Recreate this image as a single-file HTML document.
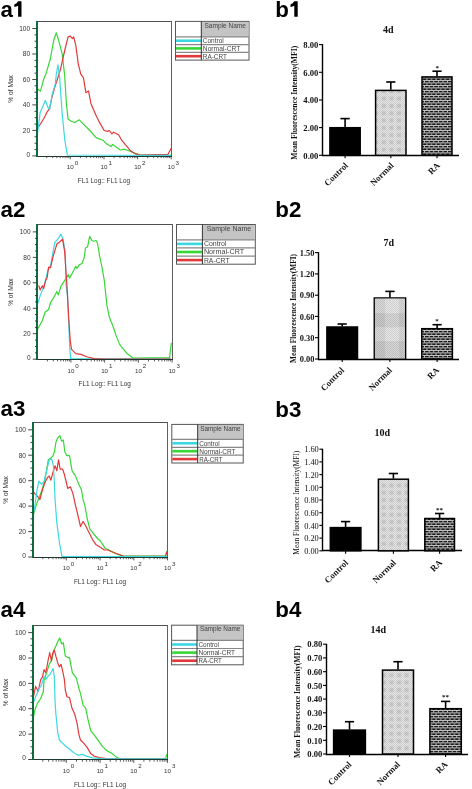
<!DOCTYPE html>
<html><head><meta charset="utf-8"><style>
html,body{margin:0;padding:0;background:#fff;width:472px;height:789px;overflow:hidden}
svg{display:block;will-change:transform}
</style></head><body>
<svg width="472" height="789" viewBox="0 0 472 789">
<rect width="472" height="789" fill="#fff"/>
<defs>
<pattern id="n1" patternUnits="userSpaceOnUse" width="7.6" height="7.3">
 <rect width="7.6" height="7.3" fill="#e4e4e4"/>
 <rect x="1.8" y="1.7" width="4" height="3.9" fill="#cecece"/>
</pattern>
<pattern id="dots" patternUnits="userSpaceOnUse" width="2" height="2">
 <rect width="1" height="1" fill="#000" fill-opacity="0.10"/>
 <rect x="1" y="1" width="1" height="1" fill="#000" fill-opacity="0.10"/>
</pattern>
<pattern id="n2" patternUnits="userSpaceOnUse" width="22" height="26">
 <rect width="22" height="26" fill="#e4e4e4"/>
 <rect x="0" y="0" width="11" height="13" fill="#cdcdcd"/>
 <rect x="11" y="13" width="11" height="13" fill="#d6d6d6"/>
</pattern>
<pattern id="brick" patternUnits="userSpaceOnUse" width="9.2" height="5">
 <rect width="9.2" height="5" fill="#1a1a1a"/>
 <rect x="0" y="0" width="9.2" height="0.8" fill="#e6e6e6"/>
 <rect x="0" y="2.5" width="9.2" height="0.8" fill="#e6e6e6"/>
 <rect x="1" y="0.8" width="0.8" height="1.7" fill="#e6e6e6"/>
 <rect x="5.6" y="0.8" width="0.8" height="1.7" fill="#e6e6e6"/>
 <rect x="3.3" y="3.3" width="0.8" height="1.7" fill="#e6e6e6"/>
 <rect x="7.9" y="3.3" width="0.8" height="1.7" fill="#e6e6e6"/>
</pattern>
</defs>
<text x="0.6" y="17.0" style='font-family:"Liberation Sans",sans-serif;font-weight:bold;font-size:22.3px' fill="#000">a</text>
<path d="M18.1,1.1999999999999993 h3.4 v15.6 h-3.4 v-11 q-1.6,0.9 -3.8,1.1 v-2.5 q2.6,-0.9 3.8,-3.2 z" fill="#000"/>
<rect x="36.7" y="21.4" width="134.5" height="134.9" fill="#fff" stroke="none"/>
<clipPath id="c0"><rect x="36.7" y="21.4" width="135.1" height="134.9"/></clipPath>
<g clip-path="url(#c0)" fill="none" stroke-width="1.2" stroke-linejoin="round">
<polyline points="37.1,88.6 40.5,91.2 43.6,79.3 46.1,73.4 50.3,59.0 53.7,40.3 56.3,32.7 58.8,41.2 62.2,53.9 64.7,75.9 66.4,103.7 68.1,119.0 71.5,121.5 74.9,122.4 79.2,119.8 84.2,124.9 89.3,130.0 96.1,137.6 102.9,140.2 106.8,144.1 111.0,146.6 112.7,144.4 120.3,150.0 124.6,149.2 128.8,150.8 133.9,152.9 140.7,155.1 171.0,155.3" stroke="#36d836"/>
<polyline points="37.4,127.5 39.3,125.8 43.6,119.0 47.0,112.2 49.5,108.8 52.0,97.0 55.4,85.0 57.1,80.2 60.5,69.2 64.7,50.5 68.1,36.9 70.3,36.1 72.4,38.6 73.7,36.9 75.8,45.4 78.3,64.1 80.8,74.2 83.4,77.6 85.9,92.7 88.5,91.0 91.0,103.7 96.1,115.6 99.5,122.4 104.2,130.5 107.6,131.4 109.3,130.5 111.9,133.9 113.6,132.2 118.6,134.7 122.0,140.7 127.1,146.6 130.5,150.8 135.6,153.9 140.7,155.1 155.9,154.6 167.8,154.6 171.2,148.3" stroke="#e23a3a"/>
<polyline points="37.6,132.5 40.2,112.2 42.7,107.1 45.3,100.3 47.8,107.1 49.5,109.7 52.0,95.3 55.4,83.4 56.3,74.2 58.0,64.9 59.7,77.6 60.5,90.0 62.2,113.9 64.7,139.3 67.3,155.0 171.0,155.3" stroke="#3cd8e2"/>
</g>
<line x1="36.7" y1="21.5" x2="172.0" y2="21.5" stroke="#505050" stroke-width="1"/>
<line x1="171.5" y1="21.4" x2="171.5" y2="156.3" stroke="#606060" stroke-width="1"/>
<line x1="36.2" y1="156.5" x2="172.0" y2="156.5" stroke="#1e3a2e" stroke-width="1.2"/>
<line x1="37" y1="21.0" x2="37" y2="157.1" stroke="#0c6e40" stroke-width="2"/>
<line x1="32.300000000000004" y1="155.9" x2="36.7" y2="155.9" stroke="#333" stroke-width="0.9"/>
<text x="30.1" y="156.5" text-anchor="end" textLength="3.65" lengthAdjust="spacingAndGlyphs" style='font-family:"Liberation Sans",sans-serif;font-size:6.5px' fill="#333">0</text>
<line x1="34.5" y1="149.5" x2="36.7" y2="149.5" stroke="#333" stroke-width="0.9"/>
<line x1="34.5" y1="143.2" x2="36.7" y2="143.2" stroke="#333" stroke-width="0.9"/>
<line x1="34.5" y1="136.8" x2="36.7" y2="136.8" stroke="#333" stroke-width="0.9"/>
<line x1="32.300000000000004" y1="130.4" x2="36.7" y2="130.4" stroke="#333" stroke-width="0.9"/>
<text x="30.1" y="132.7" text-anchor="end" textLength="7.30" lengthAdjust="spacingAndGlyphs" style='font-family:"Liberation Sans",sans-serif;font-size:6.5px' fill="#333">20</text>
<line x1="34.5" y1="124.1" x2="36.7" y2="124.1" stroke="#333" stroke-width="0.9"/>
<line x1="34.5" y1="117.7" x2="36.7" y2="117.7" stroke="#333" stroke-width="0.9"/>
<line x1="34.5" y1="111.3" x2="36.7" y2="111.3" stroke="#333" stroke-width="0.9"/>
<line x1="32.300000000000004" y1="104.9" x2="36.7" y2="104.9" stroke="#333" stroke-width="0.9"/>
<text x="30.1" y="107.2" text-anchor="end" textLength="7.30" lengthAdjust="spacingAndGlyphs" style='font-family:"Liberation Sans",sans-serif;font-size:6.5px' fill="#333">40</text>
<line x1="34.5" y1="98.6" x2="36.7" y2="98.6" stroke="#333" stroke-width="0.9"/>
<line x1="34.5" y1="92.2" x2="36.7" y2="92.2" stroke="#333" stroke-width="0.9"/>
<line x1="34.5" y1="85.8" x2="36.7" y2="85.8" stroke="#333" stroke-width="0.9"/>
<line x1="32.300000000000004" y1="79.5" x2="36.7" y2="79.5" stroke="#333" stroke-width="0.9"/>
<text x="30.1" y="81.8" text-anchor="end" textLength="7.30" lengthAdjust="spacingAndGlyphs" style='font-family:"Liberation Sans",sans-serif;font-size:6.5px' fill="#333">60</text>
<line x1="34.5" y1="73.1" x2="36.7" y2="73.1" stroke="#333" stroke-width="0.9"/>
<line x1="34.5" y1="66.7" x2="36.7" y2="66.7" stroke="#333" stroke-width="0.9"/>
<line x1="34.5" y1="60.4" x2="36.7" y2="60.4" stroke="#333" stroke-width="0.9"/>
<line x1="32.300000000000004" y1="54.0" x2="36.7" y2="54.0" stroke="#333" stroke-width="0.9"/>
<text x="30.1" y="56.3" text-anchor="end" textLength="7.30" lengthAdjust="spacingAndGlyphs" style='font-family:"Liberation Sans",sans-serif;font-size:6.5px' fill="#333">80</text>
<line x1="34.5" y1="47.6" x2="36.7" y2="47.6" stroke="#333" stroke-width="0.9"/>
<line x1="34.5" y1="41.2" x2="36.7" y2="41.2" stroke="#333" stroke-width="0.9"/>
<line x1="34.5" y1="34.9" x2="36.7" y2="34.9" stroke="#333" stroke-width="0.9"/>
<line x1="32.300000000000004" y1="28.5" x2="36.7" y2="28.5" stroke="#333" stroke-width="0.9"/>
<text x="30.1" y="30.8" text-anchor="end" textLength="10.95" lengthAdjust="spacingAndGlyphs" style='font-family:"Liberation Sans",sans-serif;font-size:6.5px' fill="#333">100</text>
<text transform="translate(12.500000000000004,88.9) rotate(-90)" text-anchor="middle" style='font-family:"Liberation Sans",sans-serif;font-size:6.6px' fill="#333">% of Max</text>
<line x1="46.8" y1="156.3" x2="46.8" y2="158.10000000000002" stroke="#333" stroke-width="0.8"/>
<line x1="52.7" y1="156.3" x2="52.7" y2="158.10000000000002" stroke="#333" stroke-width="0.8"/>
<line x1="56.9" y1="156.3" x2="56.9" y2="158.10000000000002" stroke="#333" stroke-width="0.8"/>
<line x1="60.2" y1="156.3" x2="60.2" y2="158.10000000000002" stroke="#333" stroke-width="0.8"/>
<line x1="62.9" y1="156.3" x2="62.9" y2="158.10000000000002" stroke="#333" stroke-width="0.8"/>
<line x1="65.1" y1="156.3" x2="65.1" y2="158.10000000000002" stroke="#333" stroke-width="0.8"/>
<line x1="67.1" y1="156.3" x2="67.1" y2="158.10000000000002" stroke="#333" stroke-width="0.8"/>
<line x1="68.8" y1="156.3" x2="68.8" y2="158.10000000000002" stroke="#333" stroke-width="0.8"/>
<line x1="70.3" y1="156.3" x2="70.3" y2="159.3" stroke="#333" stroke-width="0.8"/>
<line x1="80.4" y1="156.3" x2="80.4" y2="158.10000000000002" stroke="#333" stroke-width="0.8"/>
<line x1="86.4" y1="156.3" x2="86.4" y2="158.10000000000002" stroke="#333" stroke-width="0.8"/>
<line x1="90.6" y1="156.3" x2="90.6" y2="158.10000000000002" stroke="#333" stroke-width="0.8"/>
<line x1="93.8" y1="156.3" x2="93.8" y2="158.10000000000002" stroke="#333" stroke-width="0.8"/>
<line x1="96.5" y1="156.3" x2="96.5" y2="158.10000000000002" stroke="#333" stroke-width="0.8"/>
<line x1="98.7" y1="156.3" x2="98.7" y2="158.10000000000002" stroke="#333" stroke-width="0.8"/>
<line x1="100.7" y1="156.3" x2="100.7" y2="158.10000000000002" stroke="#333" stroke-width="0.8"/>
<line x1="102.4" y1="156.3" x2="102.4" y2="158.10000000000002" stroke="#333" stroke-width="0.8"/>
<line x1="104.0" y1="156.3" x2="104.0" y2="159.3" stroke="#333" stroke-width="0.8"/>
<line x1="114.1" y1="156.3" x2="114.1" y2="158.10000000000002" stroke="#333" stroke-width="0.8"/>
<line x1="120.0" y1="156.3" x2="120.0" y2="158.10000000000002" stroke="#333" stroke-width="0.8"/>
<line x1="124.2" y1="156.3" x2="124.2" y2="158.10000000000002" stroke="#333" stroke-width="0.8"/>
<line x1="127.5" y1="156.3" x2="127.5" y2="158.10000000000002" stroke="#333" stroke-width="0.8"/>
<line x1="130.1" y1="156.3" x2="130.1" y2="158.10000000000002" stroke="#333" stroke-width="0.8"/>
<line x1="132.4" y1="156.3" x2="132.4" y2="158.10000000000002" stroke="#333" stroke-width="0.8"/>
<line x1="134.3" y1="156.3" x2="134.3" y2="158.10000000000002" stroke="#333" stroke-width="0.8"/>
<line x1="136.0" y1="156.3" x2="136.0" y2="158.10000000000002" stroke="#333" stroke-width="0.8"/>
<line x1="137.6" y1="156.3" x2="137.6" y2="159.3" stroke="#333" stroke-width="0.8"/>
<line x1="147.7" y1="156.3" x2="147.7" y2="158.10000000000002" stroke="#333" stroke-width="0.8"/>
<line x1="153.6" y1="156.3" x2="153.6" y2="158.10000000000002" stroke="#333" stroke-width="0.8"/>
<line x1="157.8" y1="156.3" x2="157.8" y2="158.10000000000002" stroke="#333" stroke-width="0.8"/>
<line x1="161.1" y1="156.3" x2="161.1" y2="158.10000000000002" stroke="#333" stroke-width="0.8"/>
<line x1="163.7" y1="156.3" x2="163.7" y2="158.10000000000002" stroke="#333" stroke-width="0.8"/>
<line x1="166.0" y1="156.3" x2="166.0" y2="158.10000000000002" stroke="#333" stroke-width="0.8"/>
<line x1="167.9" y1="156.3" x2="167.9" y2="158.10000000000002" stroke="#333" stroke-width="0.8"/>
<line x1="169.7" y1="156.3" x2="169.7" y2="158.10000000000002" stroke="#333" stroke-width="0.8"/>
<line x1="171.2" y1="156.3" x2="171.2" y2="159.3" stroke="#333" stroke-width="0.8"/>
<text x="70.3" y="169.3" text-anchor="middle" style='font-family:"Liberation Sans",sans-serif;font-size:6.2px' fill="#333">10</text>
<text x="74.7" y="164.6" style='font-family:"Liberation Sans",sans-serif;font-size:6.2px' fill="#333">0</text>
<text x="104.0" y="169.3" text-anchor="middle" style='font-family:"Liberation Sans",sans-serif;font-size:6.2px' fill="#333">10</text>
<text x="108.4" y="164.6" style='font-family:"Liberation Sans",sans-serif;font-size:6.2px' fill="#333">1</text>
<text x="137.6" y="169.3" text-anchor="middle" style='font-family:"Liberation Sans",sans-serif;font-size:6.2px' fill="#333">10</text>
<text x="142.0" y="164.6" style='font-family:"Liberation Sans",sans-serif;font-size:6.2px' fill="#333">2</text>
<text x="171.2" y="169.3" text-anchor="middle" style='font-family:"Liberation Sans",sans-serif;font-size:6.2px' fill="#333">10</text>
<text x="175.6" y="164.6" style='font-family:"Liberation Sans",sans-serif;font-size:6.2px' fill="#333">3</text>
<text x="103.9" y="183.0" text-anchor="middle" style='font-family:"Liberation Sans",sans-serif;font-size:6.4px' fill="#333">FL1 Log:: FL1 Log</text>
<rect x="175.5" y="21.4" width="73.5" height="38.7" fill="#fff" stroke="#555" stroke-width="1"/>
<rect x="201.3" y="21.9" width="47.19999999999999" height="14.899999999999999" fill="#c4c4c4"/>
<text x="225.2" y="27.6" text-anchor="middle" textLength="41.5" lengthAdjust="spacingAndGlyphs" style='font-family:"Liberation Sans",sans-serif;font-size:6.4px' fill="#444">Sample Name</text>
<line x1="175.5" y1="36.8" x2="249.0" y2="36.8" stroke="#888" stroke-width="1.2"/>
<line x1="176.0" y1="40.7" x2="201.3" y2="40.7" stroke="#3cd8e2" stroke-width="2.6"/>
<text x="202.8" y="43.1" textLength="21.0" lengthAdjust="spacingAndGlyphs" style='font-family:"Liberation Sans",sans-serif;font-size:6.4px' fill="#444">Control</text>
<line x1="175.5" y1="44.6" x2="249.0" y2="44.6" stroke="#888" stroke-width="1.2"/>
<line x1="176.0" y1="48.4" x2="201.3" y2="48.4" stroke="#36d836" stroke-width="2.6"/>
<text x="202.8" y="50.8" textLength="37.5" lengthAdjust="spacingAndGlyphs" style='font-family:"Liberation Sans",sans-serif;font-size:6.4px' fill="#444">Normal-CRT</text>
<line x1="175.5" y1="52.3" x2="249.0" y2="52.3" stroke="#888" stroke-width="1.2"/>
<line x1="176.0" y1="56.2" x2="201.3" y2="56.2" stroke="#e23a3a" stroke-width="2.6"/>
<text x="202.8" y="58.6" textLength="24.0" lengthAdjust="spacingAndGlyphs" style='font-family:"Liberation Sans",sans-serif;font-size:6.4px' fill="#444">RA-CRT</text>
<line x1="201.3" y1="21.4" x2="201.3" y2="60.1" stroke="#333" stroke-width="1"/>
<text x="0.6" y="217.2" style='font-family:"Liberation Sans",sans-serif;font-weight:bold;font-size:22.3px' fill="#000">a2</text>
<rect x="37.2" y="224.6" width="134.89999999999998" height="135.00000000000003" fill="#fff" stroke="none"/>
<clipPath id="c1"><rect x="37.2" y="224.6" width="135.49999999999997" height="135.00000000000003"/></clipPath>
<g clip-path="url(#c1)" fill="none" stroke-width="1.2" stroke-linejoin="round">
<polyline points="37.6,329.5 38.1,328.3 42.3,320.7 45.1,312.3 48.6,309.5 50.6,302.5 54.1,296.9 56.9,291.4 58.3,294.9 61.1,285.8 63.9,281.6 66.7,277.4 68.4,274.6 69.5,278.1 72.3,273.2 75.7,266.3 77.1,268.4 79.2,264.9 82.0,263.5 84.1,257.9 85.5,248.1 87.6,246.7 89.7,236.3 91.8,240.5 93.9,241.2 96.0,240.5 97.5,243.0 99.5,255.5 102.0,267.4 103.5,276.0 104.3,280.6 106.9,305.4 109.4,317.3 112.8,325.8 116.2,335.9 119.6,344.4 123.0,348.6 127.2,353.7 133.1,358.0 169.6,357.6 171.3,342.7" stroke="#36d836"/>
<polyline points="37.6,303.5 38.1,302.5 40.2,295.6 43.0,288.6 45.1,281.6 47.9,270.4 50.6,265.6 52.7,253.7 54.8,242.6 58.3,238.4 61.1,234.2 63.2,239.8 65.3,253.7 66.0,284.4 67.4,295.6 68.6,320.0 69.8,349.3 70.7,358.6 171.0,358.8" stroke="#3cd8e2"/>
<polyline points="38.5,286.0 38.8,285.8 40.2,290.0 42.3,285.8 43.7,288.6 45.8,280.2 47.2,277.4 48.6,267.0 50.6,267.7 52.7,257.9 54.8,250.9 56.9,244.0 59.7,241.9 62.5,239.1 64.6,250.9 66.0,271.8 67.4,292.8 68.8,319.3 70.2,340.0 71.5,349.3 75.8,353.6 80.8,354.4 87.6,357.0 94.4,358.6 104.6,359.0 171.0,359.0" stroke="#e23a3a"/>
</g>
<line x1="37.2" y1="224.5" x2="173.0" y2="224.5" stroke="#505050" stroke-width="1"/>
<line x1="172.5" y1="224.6" x2="172.5" y2="359.6" stroke="#606060" stroke-width="1"/>
<line x1="36.7" y1="359.5" x2="173.0" y2="359.5" stroke="#1e3a2e" stroke-width="1.2"/>
<line x1="37" y1="224.0" x2="37" y2="360.1" stroke="#0c6e40" stroke-width="2"/>
<line x1="32.800000000000004" y1="359.2" x2="37.2" y2="359.2" stroke="#333" stroke-width="0.9"/>
<text x="30.6" y="359.8" text-anchor="end" textLength="3.65" lengthAdjust="spacingAndGlyphs" style='font-family:"Liberation Sans",sans-serif;font-size:6.5px' fill="#333">0</text>
<line x1="35.0" y1="352.8" x2="37.2" y2="352.8" stroke="#333" stroke-width="0.9"/>
<line x1="35.0" y1="346.5" x2="37.2" y2="346.5" stroke="#333" stroke-width="0.9"/>
<line x1="35.0" y1="340.1" x2="37.2" y2="340.1" stroke="#333" stroke-width="0.9"/>
<line x1="32.800000000000004" y1="333.7" x2="37.2" y2="333.7" stroke="#333" stroke-width="0.9"/>
<text x="30.6" y="336.0" text-anchor="end" textLength="7.30" lengthAdjust="spacingAndGlyphs" style='font-family:"Liberation Sans",sans-serif;font-size:6.5px' fill="#333">20</text>
<line x1="35.0" y1="327.4" x2="37.2" y2="327.4" stroke="#333" stroke-width="0.9"/>
<line x1="35.0" y1="321.0" x2="37.2" y2="321.0" stroke="#333" stroke-width="0.9"/>
<line x1="35.0" y1="314.6" x2="37.2" y2="314.6" stroke="#333" stroke-width="0.9"/>
<line x1="32.800000000000004" y1="308.3" x2="37.2" y2="308.3" stroke="#333" stroke-width="0.9"/>
<text x="30.6" y="310.6" text-anchor="end" textLength="7.30" lengthAdjust="spacingAndGlyphs" style='font-family:"Liberation Sans",sans-serif;font-size:6.5px' fill="#333">40</text>
<line x1="35.0" y1="301.9" x2="37.2" y2="301.9" stroke="#333" stroke-width="0.9"/>
<line x1="35.0" y1="295.6" x2="37.2" y2="295.6" stroke="#333" stroke-width="0.9"/>
<line x1="35.0" y1="289.2" x2="37.2" y2="289.2" stroke="#333" stroke-width="0.9"/>
<line x1="32.800000000000004" y1="282.8" x2="37.2" y2="282.8" stroke="#333" stroke-width="0.9"/>
<text x="30.6" y="285.1" text-anchor="end" textLength="7.30" lengthAdjust="spacingAndGlyphs" style='font-family:"Liberation Sans",sans-serif;font-size:6.5px' fill="#333">60</text>
<line x1="35.0" y1="276.5" x2="37.2" y2="276.5" stroke="#333" stroke-width="0.9"/>
<line x1="35.0" y1="270.1" x2="37.2" y2="270.1" stroke="#333" stroke-width="0.9"/>
<line x1="35.0" y1="263.7" x2="37.2" y2="263.7" stroke="#333" stroke-width="0.9"/>
<line x1="32.800000000000004" y1="257.4" x2="37.2" y2="257.4" stroke="#333" stroke-width="0.9"/>
<text x="30.6" y="259.7" text-anchor="end" textLength="7.30" lengthAdjust="spacingAndGlyphs" style='font-family:"Liberation Sans",sans-serif;font-size:6.5px' fill="#333">80</text>
<line x1="35.0" y1="251.0" x2="37.2" y2="251.0" stroke="#333" stroke-width="0.9"/>
<line x1="35.0" y1="244.6" x2="37.2" y2="244.6" stroke="#333" stroke-width="0.9"/>
<line x1="35.0" y1="238.3" x2="37.2" y2="238.3" stroke="#333" stroke-width="0.9"/>
<line x1="32.800000000000004" y1="231.9" x2="37.2" y2="231.9" stroke="#333" stroke-width="0.9"/>
<text x="30.6" y="234.2" text-anchor="end" textLength="10.95" lengthAdjust="spacingAndGlyphs" style='font-family:"Liberation Sans",sans-serif;font-size:6.5px' fill="#333">100</text>
<text transform="translate(13.000000000000004,292.1) rotate(-90)" text-anchor="middle" style='font-family:"Liberation Sans",sans-serif;font-size:6.6px' fill="#333">% of Max</text>
<line x1="47.4" y1="359.6" x2="47.4" y2="361.40000000000003" stroke="#333" stroke-width="0.8"/>
<line x1="53.3" y1="359.6" x2="53.3" y2="361.40000000000003" stroke="#333" stroke-width="0.8"/>
<line x1="57.5" y1="359.6" x2="57.5" y2="361.40000000000003" stroke="#333" stroke-width="0.8"/>
<line x1="60.8" y1="359.6" x2="60.8" y2="361.40000000000003" stroke="#333" stroke-width="0.8"/>
<line x1="63.4" y1="359.6" x2="63.4" y2="361.40000000000003" stroke="#333" stroke-width="0.8"/>
<line x1="65.7" y1="359.6" x2="65.7" y2="361.40000000000003" stroke="#333" stroke-width="0.8"/>
<line x1="67.7" y1="359.6" x2="67.7" y2="361.40000000000003" stroke="#333" stroke-width="0.8"/>
<line x1="69.4" y1="359.6" x2="69.4" y2="361.40000000000003" stroke="#333" stroke-width="0.8"/>
<line x1="70.9" y1="359.6" x2="70.9" y2="362.6" stroke="#333" stroke-width="0.8"/>
<line x1="81.1" y1="359.6" x2="81.1" y2="361.40000000000003" stroke="#333" stroke-width="0.8"/>
<line x1="87.0" y1="359.6" x2="87.0" y2="361.40000000000003" stroke="#333" stroke-width="0.8"/>
<line x1="91.2" y1="359.6" x2="91.2" y2="361.40000000000003" stroke="#333" stroke-width="0.8"/>
<line x1="94.5" y1="359.6" x2="94.5" y2="361.40000000000003" stroke="#333" stroke-width="0.8"/>
<line x1="97.2" y1="359.6" x2="97.2" y2="361.40000000000003" stroke="#333" stroke-width="0.8"/>
<line x1="99.4" y1="359.6" x2="99.4" y2="361.40000000000003" stroke="#333" stroke-width="0.8"/>
<line x1="101.4" y1="359.6" x2="101.4" y2="361.40000000000003" stroke="#333" stroke-width="0.8"/>
<line x1="103.1" y1="359.6" x2="103.1" y2="361.40000000000003" stroke="#333" stroke-width="0.8"/>
<line x1="104.6" y1="359.6" x2="104.6" y2="362.6" stroke="#333" stroke-width="0.8"/>
<line x1="114.8" y1="359.6" x2="114.8" y2="361.40000000000003" stroke="#333" stroke-width="0.8"/>
<line x1="120.7" y1="359.6" x2="120.7" y2="361.40000000000003" stroke="#333" stroke-width="0.8"/>
<line x1="125.0" y1="359.6" x2="125.0" y2="361.40000000000003" stroke="#333" stroke-width="0.8"/>
<line x1="128.2" y1="359.6" x2="128.2" y2="361.40000000000003" stroke="#333" stroke-width="0.8"/>
<line x1="130.9" y1="359.6" x2="130.9" y2="361.40000000000003" stroke="#333" stroke-width="0.8"/>
<line x1="133.2" y1="359.6" x2="133.2" y2="361.40000000000003" stroke="#333" stroke-width="0.8"/>
<line x1="135.1" y1="359.6" x2="135.1" y2="361.40000000000003" stroke="#333" stroke-width="0.8"/>
<line x1="136.8" y1="359.6" x2="136.8" y2="361.40000000000003" stroke="#333" stroke-width="0.8"/>
<line x1="138.4" y1="359.6" x2="138.4" y2="362.6" stroke="#333" stroke-width="0.8"/>
<line x1="148.5" y1="359.6" x2="148.5" y2="361.40000000000003" stroke="#333" stroke-width="0.8"/>
<line x1="154.5" y1="359.6" x2="154.5" y2="361.40000000000003" stroke="#333" stroke-width="0.8"/>
<line x1="158.7" y1="359.6" x2="158.7" y2="361.40000000000003" stroke="#333" stroke-width="0.8"/>
<line x1="161.9" y1="359.6" x2="161.9" y2="361.40000000000003" stroke="#333" stroke-width="0.8"/>
<line x1="164.6" y1="359.6" x2="164.6" y2="361.40000000000003" stroke="#333" stroke-width="0.8"/>
<line x1="166.9" y1="359.6" x2="166.9" y2="361.40000000000003" stroke="#333" stroke-width="0.8"/>
<line x1="168.8" y1="359.6" x2="168.8" y2="361.40000000000003" stroke="#333" stroke-width="0.8"/>
<line x1="170.6" y1="359.6" x2="170.6" y2="361.40000000000003" stroke="#333" stroke-width="0.8"/>
<line x1="172.1" y1="359.6" x2="172.1" y2="362.6" stroke="#333" stroke-width="0.8"/>
<text x="70.9" y="372.6" text-anchor="middle" style='font-family:"Liberation Sans",sans-serif;font-size:6.2px' fill="#333">10</text>
<text x="75.3" y="367.9" style='font-family:"Liberation Sans",sans-serif;font-size:6.2px' fill="#333">0</text>
<text x="104.6" y="372.6" text-anchor="middle" style='font-family:"Liberation Sans",sans-serif;font-size:6.2px' fill="#333">10</text>
<text x="109.0" y="367.9" style='font-family:"Liberation Sans",sans-serif;font-size:6.2px' fill="#333">1</text>
<text x="138.4" y="372.6" text-anchor="middle" style='font-family:"Liberation Sans",sans-serif;font-size:6.2px' fill="#333">10</text>
<text x="142.8" y="367.9" style='font-family:"Liberation Sans",sans-serif;font-size:6.2px' fill="#333">2</text>
<text x="172.1" y="372.6" text-anchor="middle" style='font-family:"Liberation Sans",sans-serif;font-size:6.2px' fill="#333">10</text>
<text x="176.5" y="367.9" style='font-family:"Liberation Sans",sans-serif;font-size:6.2px' fill="#333">3</text>
<text x="104.7" y="386.3" text-anchor="middle" style='font-family:"Liberation Sans",sans-serif;font-size:6.4px' fill="#333">FL1 Log:: FL1 Log</text>
<rect x="176.5" y="224.5" width="78.80000000000001" height="39.69999999999999" fill="#fff" stroke="#555" stroke-width="1"/>
<rect x="202.4" y="225.0" width="52.400000000000006" height="14.800000000000011" fill="#c4c4c4"/>
<text x="228.9" y="230.7" text-anchor="middle" textLength="44.5" lengthAdjust="spacingAndGlyphs" style='font-family:"Liberation Sans",sans-serif;font-size:6.4px' fill="#444">Sample Name</text>
<line x1="176.5" y1="239.8" x2="255.3" y2="239.8" stroke="#888" stroke-width="1.2"/>
<line x1="177.0" y1="243.9" x2="202.4" y2="243.9" stroke="#3cd8e2" stroke-width="2.6"/>
<text x="203.9" y="246.3" textLength="22.5" lengthAdjust="spacingAndGlyphs" style='font-family:"Liberation Sans",sans-serif;font-size:6.4px' fill="#444">Control</text>
<line x1="176.5" y1="247.9" x2="255.3" y2="247.9" stroke="#888" stroke-width="1.2"/>
<line x1="177.0" y1="252.0" x2="202.4" y2="252.0" stroke="#36d836" stroke-width="2.6"/>
<text x="203.9" y="254.4" textLength="40.2" lengthAdjust="spacingAndGlyphs" style='font-family:"Liberation Sans",sans-serif;font-size:6.4px' fill="#444">Normal-CRT</text>
<line x1="176.5" y1="256.1" x2="255.3" y2="256.1" stroke="#888" stroke-width="1.2"/>
<line x1="177.0" y1="260.1" x2="202.4" y2="260.1" stroke="#e23a3a" stroke-width="2.6"/>
<text x="203.9" y="262.5" textLength="25.7" lengthAdjust="spacingAndGlyphs" style='font-family:"Liberation Sans",sans-serif;font-size:6.4px' fill="#444">RA-CRT</text>
<line x1="202.4" y1="224.5" x2="202.4" y2="264.2" stroke="#333" stroke-width="1"/>
<text x="0.6" y="416.2" style='font-family:"Liberation Sans",sans-serif;font-weight:bold;font-size:22.3px' fill="#000">a3</text>
<rect x="32.6" y="422.5" width="134.9" height="134.89999999999998" fill="#fff" stroke="none"/>
<clipPath id="c2"><rect x="32.6" y="422.5" width="135.5" height="134.89999999999998"/></clipPath>
<g clip-path="url(#c2)" fill="none" stroke-width="1.2" stroke-linejoin="round">
<polyline points="33.1,515.6 35.6,507.1 38.2,499.7 41.6,491.2 44.9,480.2 48.3,459.8 50.9,458.1 53.1,455.6 54.3,452.2 56.0,442.0 57.7,437.8 59.9,435.6 61.6,441.2 63.3,440.0 64.9,452.2 67.0,455.6 69.5,455.6 72.1,470.8 75.5,475.9 78.8,484.4 81.4,489.5 83.1,499.7 84.8,505.4 87.3,519.0 89.9,529.2 93.3,533.4 97.5,538.5 100.1,540.7 105.2,548.3 110.3,550.8 115.3,553.4 122.1,555.9 165.5,556.0 166.8,550.8" stroke="#36d836"/>
<polyline points="33.1,491.5 34.8,493.6 37.3,496.1 39.9,499.5 42.4,490.0 44.9,482.7 47.5,477.6 49.2,475.9 50.9,480.2 53.4,470.8 55.1,465.8 56.8,470.8 58.5,459.8 60.2,469.2 62.7,469.2 64.4,474.5 67.8,488.5 70.4,486.8 72.9,493.6 75.5,505.4 78.8,519.0 80.5,526.6 83.1,521.5 85.6,525.8 89.0,532.5 92.4,539.3 95.8,544.4 100.9,547.5 104.3,550.0 107.7,550.0 113.6,552.5 118.7,554.2 123.8,556.3 165.5,556.3 166.8,552.0" stroke="#e23a3a"/>
<polyline points="33.1,515.0 35.0,505.0 37.0,490.0 39.0,481.0 41.6,484.4 44.1,481.0 46.6,470.8 49.2,459.8 51.7,459.0 53.4,465.8 54.3,481.0 55.1,500.3 56.8,522.4 59.4,542.7 61.9,556.3 167.0,556.6" stroke="#3cd8e2"/>
</g>
<line x1="32.6" y1="422.5" x2="168.0" y2="422.5" stroke="#505050" stroke-width="1"/>
<line x1="167.5" y1="422.5" x2="167.5" y2="557.4" stroke="#606060" stroke-width="1"/>
<line x1="32.1" y1="557.5" x2="168.0" y2="557.5" stroke="#1e3a2e" stroke-width="1.2"/>
<line x1="33" y1="422.0" x2="33" y2="558.1" stroke="#0c6e40" stroke-width="2"/>
<line x1="28.200000000000003" y1="557.0" x2="32.6" y2="557.0" stroke="#333" stroke-width="0.9"/>
<text x="26.0" y="557.6" text-anchor="end" textLength="3.65" lengthAdjust="spacingAndGlyphs" style='font-family:"Liberation Sans",sans-serif;font-size:6.5px' fill="#333">0</text>
<line x1="30.400000000000002" y1="550.6" x2="32.6" y2="550.6" stroke="#333" stroke-width="0.9"/>
<line x1="30.400000000000002" y1="544.3" x2="32.6" y2="544.3" stroke="#333" stroke-width="0.9"/>
<line x1="30.400000000000002" y1="537.9" x2="32.6" y2="537.9" stroke="#333" stroke-width="0.9"/>
<line x1="28.200000000000003" y1="531.6" x2="32.6" y2="531.6" stroke="#333" stroke-width="0.9"/>
<text x="26.0" y="533.9" text-anchor="end" textLength="7.30" lengthAdjust="spacingAndGlyphs" style='font-family:"Liberation Sans",sans-serif;font-size:6.5px' fill="#333">20</text>
<line x1="30.400000000000002" y1="525.2" x2="32.6" y2="525.2" stroke="#333" stroke-width="0.9"/>
<line x1="30.400000000000002" y1="518.8" x2="32.6" y2="518.8" stroke="#333" stroke-width="0.9"/>
<line x1="30.400000000000002" y1="512.5" x2="32.6" y2="512.5" stroke="#333" stroke-width="0.9"/>
<line x1="28.200000000000003" y1="506.1" x2="32.6" y2="506.1" stroke="#333" stroke-width="0.9"/>
<text x="26.0" y="508.4" text-anchor="end" textLength="7.30" lengthAdjust="spacingAndGlyphs" style='font-family:"Liberation Sans",sans-serif;font-size:6.5px' fill="#333">40</text>
<line x1="30.400000000000002" y1="499.8" x2="32.6" y2="499.8" stroke="#333" stroke-width="0.9"/>
<line x1="30.400000000000002" y1="493.4" x2="32.6" y2="493.4" stroke="#333" stroke-width="0.9"/>
<line x1="30.400000000000002" y1="487.0" x2="32.6" y2="487.0" stroke="#333" stroke-width="0.9"/>
<line x1="28.200000000000003" y1="480.7" x2="32.6" y2="480.7" stroke="#333" stroke-width="0.9"/>
<text x="26.0" y="483.0" text-anchor="end" textLength="7.30" lengthAdjust="spacingAndGlyphs" style='font-family:"Liberation Sans",sans-serif;font-size:6.5px' fill="#333">60</text>
<line x1="30.400000000000002" y1="474.3" x2="32.6" y2="474.3" stroke="#333" stroke-width="0.9"/>
<line x1="30.400000000000002" y1="468.0" x2="32.6" y2="468.0" stroke="#333" stroke-width="0.9"/>
<line x1="30.400000000000002" y1="461.6" x2="32.6" y2="461.6" stroke="#333" stroke-width="0.9"/>
<line x1="28.200000000000003" y1="455.2" x2="32.6" y2="455.2" stroke="#333" stroke-width="0.9"/>
<text x="26.0" y="457.5" text-anchor="end" textLength="7.30" lengthAdjust="spacingAndGlyphs" style='font-family:"Liberation Sans",sans-serif;font-size:6.5px' fill="#333">80</text>
<line x1="30.400000000000002" y1="448.9" x2="32.6" y2="448.9" stroke="#333" stroke-width="0.9"/>
<line x1="30.400000000000002" y1="442.5" x2="32.6" y2="442.5" stroke="#333" stroke-width="0.9"/>
<line x1="30.400000000000002" y1="436.2" x2="32.6" y2="436.2" stroke="#333" stroke-width="0.9"/>
<line x1="28.200000000000003" y1="429.8" x2="32.6" y2="429.8" stroke="#333" stroke-width="0.9"/>
<text x="26.0" y="432.1" text-anchor="end" textLength="10.95" lengthAdjust="spacingAndGlyphs" style='font-family:"Liberation Sans",sans-serif;font-size:6.5px' fill="#333">100</text>
<text transform="translate(8.400000000000002,489.9) rotate(-90)" text-anchor="middle" style='font-family:"Liberation Sans",sans-serif;font-size:6.6px' fill="#333">% of Max</text>
<line x1="42.8" y1="557.4" x2="42.8" y2="559.1999999999999" stroke="#333" stroke-width="0.8"/>
<line x1="48.7" y1="557.4" x2="48.7" y2="559.1999999999999" stroke="#333" stroke-width="0.8"/>
<line x1="52.9" y1="557.4" x2="52.9" y2="559.1999999999999" stroke="#333" stroke-width="0.8"/>
<line x1="56.2" y1="557.4" x2="56.2" y2="559.1999999999999" stroke="#333" stroke-width="0.8"/>
<line x1="58.8" y1="557.4" x2="58.8" y2="559.1999999999999" stroke="#333" stroke-width="0.8"/>
<line x1="61.1" y1="557.4" x2="61.1" y2="559.1999999999999" stroke="#333" stroke-width="0.8"/>
<line x1="63.1" y1="557.4" x2="63.1" y2="559.1999999999999" stroke="#333" stroke-width="0.8"/>
<line x1="64.8" y1="557.4" x2="64.8" y2="559.1999999999999" stroke="#333" stroke-width="0.8"/>
<line x1="66.3" y1="557.4" x2="66.3" y2="560.4" stroke="#333" stroke-width="0.8"/>
<line x1="76.5" y1="557.4" x2="76.5" y2="559.1999999999999" stroke="#333" stroke-width="0.8"/>
<line x1="82.4" y1="557.4" x2="82.4" y2="559.1999999999999" stroke="#333" stroke-width="0.8"/>
<line x1="86.6" y1="557.4" x2="86.6" y2="559.1999999999999" stroke="#333" stroke-width="0.8"/>
<line x1="89.9" y1="557.4" x2="89.9" y2="559.1999999999999" stroke="#333" stroke-width="0.8"/>
<line x1="92.6" y1="557.4" x2="92.6" y2="559.1999999999999" stroke="#333" stroke-width="0.8"/>
<line x1="94.8" y1="557.4" x2="94.8" y2="559.1999999999999" stroke="#333" stroke-width="0.8"/>
<line x1="96.8" y1="557.4" x2="96.8" y2="559.1999999999999" stroke="#333" stroke-width="0.8"/>
<line x1="98.5" y1="557.4" x2="98.5" y2="559.1999999999999" stroke="#333" stroke-width="0.8"/>
<line x1="100.1" y1="557.4" x2="100.1" y2="560.4" stroke="#333" stroke-width="0.8"/>
<line x1="110.2" y1="557.4" x2="110.2" y2="559.1999999999999" stroke="#333" stroke-width="0.8"/>
<line x1="116.1" y1="557.4" x2="116.1" y2="559.1999999999999" stroke="#333" stroke-width="0.8"/>
<line x1="120.4" y1="557.4" x2="120.4" y2="559.1999999999999" stroke="#333" stroke-width="0.8"/>
<line x1="123.6" y1="557.4" x2="123.6" y2="559.1999999999999" stroke="#333" stroke-width="0.8"/>
<line x1="126.3" y1="557.4" x2="126.3" y2="559.1999999999999" stroke="#333" stroke-width="0.8"/>
<line x1="128.6" y1="557.4" x2="128.6" y2="559.1999999999999" stroke="#333" stroke-width="0.8"/>
<line x1="130.5" y1="557.4" x2="130.5" y2="559.1999999999999" stroke="#333" stroke-width="0.8"/>
<line x1="132.2" y1="557.4" x2="132.2" y2="559.1999999999999" stroke="#333" stroke-width="0.8"/>
<line x1="133.8" y1="557.4" x2="133.8" y2="560.4" stroke="#333" stroke-width="0.8"/>
<line x1="143.9" y1="557.4" x2="143.9" y2="559.1999999999999" stroke="#333" stroke-width="0.8"/>
<line x1="149.9" y1="557.4" x2="149.9" y2="559.1999999999999" stroke="#333" stroke-width="0.8"/>
<line x1="154.1" y1="557.4" x2="154.1" y2="559.1999999999999" stroke="#333" stroke-width="0.8"/>
<line x1="157.3" y1="557.4" x2="157.3" y2="559.1999999999999" stroke="#333" stroke-width="0.8"/>
<line x1="160.0" y1="557.4" x2="160.0" y2="559.1999999999999" stroke="#333" stroke-width="0.8"/>
<line x1="162.3" y1="557.4" x2="162.3" y2="559.1999999999999" stroke="#333" stroke-width="0.8"/>
<line x1="164.2" y1="557.4" x2="164.2" y2="559.1999999999999" stroke="#333" stroke-width="0.8"/>
<line x1="166.0" y1="557.4" x2="166.0" y2="559.1999999999999" stroke="#333" stroke-width="0.8"/>
<line x1="167.5" y1="557.4" x2="167.5" y2="560.4" stroke="#333" stroke-width="0.8"/>
<text x="66.3" y="570.4" text-anchor="middle" style='font-family:"Liberation Sans",sans-serif;font-size:6.2px' fill="#333">10</text>
<text x="70.7" y="565.7" style='font-family:"Liberation Sans",sans-serif;font-size:6.2px' fill="#333">0</text>
<text x="100.1" y="570.4" text-anchor="middle" style='font-family:"Liberation Sans",sans-serif;font-size:6.2px' fill="#333">10</text>
<text x="104.5" y="565.7" style='font-family:"Liberation Sans",sans-serif;font-size:6.2px' fill="#333">1</text>
<text x="133.8" y="570.4" text-anchor="middle" style='font-family:"Liberation Sans",sans-serif;font-size:6.2px' fill="#333">10</text>
<text x="138.2" y="565.7" style='font-family:"Liberation Sans",sans-serif;font-size:6.2px' fill="#333">2</text>
<text x="167.5" y="570.4" text-anchor="middle" style='font-family:"Liberation Sans",sans-serif;font-size:6.2px' fill="#333">10</text>
<text x="171.9" y="565.7" style='font-family:"Liberation Sans",sans-serif;font-size:6.2px' fill="#333">3</text>
<text x="100.0" y="584.1" text-anchor="middle" style='font-family:"Liberation Sans",sans-serif;font-size:6.4px' fill="#333">FL1 Log:: FL1 Log</text>
<rect x="171.8" y="424.4" width="71.39999999999998" height="38.60000000000002" fill="#fff" stroke="#555" stroke-width="1"/>
<rect x="197.7" y="424.9" width="45.0" height="14.5" fill="#c4c4c4"/>
<text x="220.4" y="430.6" text-anchor="middle" textLength="40.3" lengthAdjust="spacingAndGlyphs" style='font-family:"Liberation Sans",sans-serif;font-size:6.4px' fill="#444">Sample Name</text>
<line x1="171.8" y1="439.4" x2="243.2" y2="439.4" stroke="#888" stroke-width="1.2"/>
<line x1="172.3" y1="443.3" x2="197.7" y2="443.3" stroke="#3cd8e2" stroke-width="2.6"/>
<text x="199.2" y="445.7" textLength="20.4" lengthAdjust="spacingAndGlyphs" style='font-family:"Liberation Sans",sans-serif;font-size:6.4px' fill="#444">Control</text>
<line x1="171.8" y1="447.3" x2="243.2" y2="447.3" stroke="#888" stroke-width="1.2"/>
<line x1="172.3" y1="451.2" x2="197.7" y2="451.2" stroke="#36d836" stroke-width="2.6"/>
<text x="199.2" y="453.6" textLength="36.4" lengthAdjust="spacingAndGlyphs" style='font-family:"Liberation Sans",sans-serif;font-size:6.4px' fill="#444">Normal-CRT</text>
<line x1="171.8" y1="455.1" x2="243.2" y2="455.1" stroke="#888" stroke-width="1.2"/>
<line x1="172.3" y1="459.1" x2="197.7" y2="459.1" stroke="#e23a3a" stroke-width="2.6"/>
<text x="199.2" y="461.5" textLength="23.3" lengthAdjust="spacingAndGlyphs" style='font-family:"Liberation Sans",sans-serif;font-size:6.4px' fill="#444">RA-CRT</text>
<line x1="197.7" y1="424.4" x2="197.7" y2="463.0" stroke="#333" stroke-width="1"/>
<text x="0.6" y="617.0" style='font-family:"Liberation Sans",sans-serif;font-weight:bold;font-size:22.3px' fill="#000">a4</text>
<rect x="32.6" y="625.0" width="134.9" height="134.89999999999998" fill="#fff" stroke="none"/>
<clipPath id="c3"><rect x="32.6" y="625.0" width="135.5" height="134.89999999999998"/></clipPath>
<g clip-path="url(#c3)" fill="none" stroke-width="1.2" stroke-linejoin="round">
<polyline points="33.1,718.8 34.8,710.3 37.3,703.6 40.7,698.5 43.3,691.7 44.1,679.6 46.6,672.8 49.2,664.4 51.7,660.1 53.8,650.8 56.0,645.7 58.2,640.6 59.9,638.1 61.6,644.0 63.3,642.7 65.3,655.9 67.8,657.6 69.5,657.6 72.4,672.8 76.3,677.9 78.8,688.1 80.5,693.4 83.1,705.3 85.6,707.8 88.2,720.5 90.7,730.7 94.9,735.8 98.4,740.7 102.6,746.6 106.9,750.8 112.0,753.4 117.0,757.6 120.4,759.0 165.5,759.0 166.8,754.2" stroke="#36d836"/>
<polyline points="33.1,698.3 35.6,686.4 38.2,691.5 40.7,679.6 42.4,677.1 44.1,669.5 45.8,672.8 48.0,661.0 49.7,652.5 51.4,661.0 52.6,653.4 54.3,650.0 56.0,656.7 57.7,662.7 59.4,666.9 61.1,664.4 62.7,671.2 64.4,679.6 65.3,690.0 67.0,696.8 69.5,697.6 72.1,708.6 74.6,713.7 77.2,723.9 78.8,734.1 80.5,740.0 83.9,743.4 87.3,747.6 90.7,753.6 94.1,756.1 99.2,757.5 106.0,758.6 166.0,758.8" stroke="#e23a3a"/>
<polyline points="33.1,703.6 35.6,696.8 39.0,689.0 41.6,684.7 44.1,676.2 45.8,679.6 48.0,676.2 50.0,674.5 51.7,671.2 53.1,668.6 54.3,676.2 55.1,702.0 56.0,715.4 57.7,732.4 59.4,740.0 63.6,744.2 68.7,748.5 73.8,752.7 78.0,755.3 82.2,754.4 86.5,756.1 92.4,757.8 100.9,758.6 167.0,758.9" stroke="#3cd8e2"/>
</g>
<line x1="32.6" y1="625.5" x2="168.0" y2="625.5" stroke="#505050" stroke-width="1"/>
<line x1="167.5" y1="625.0" x2="167.5" y2="759.9" stroke="#606060" stroke-width="1"/>
<line x1="32.1" y1="759.5" x2="168.0" y2="759.5" stroke="#1e3a2e" stroke-width="1.2"/>
<line x1="33" y1="625.0" x2="33" y2="760.1" stroke="#0c6e40" stroke-width="2"/>
<line x1="28.200000000000003" y1="759.5" x2="32.6" y2="759.5" stroke="#333" stroke-width="0.9"/>
<text x="26.0" y="760.1" text-anchor="end" textLength="3.65" lengthAdjust="spacingAndGlyphs" style='font-family:"Liberation Sans",sans-serif;font-size:6.5px' fill="#333">0</text>
<line x1="30.400000000000002" y1="753.2" x2="32.6" y2="753.2" stroke="#333" stroke-width="0.9"/>
<line x1="30.400000000000002" y1="746.8" x2="32.6" y2="746.8" stroke="#333" stroke-width="0.9"/>
<line x1="30.400000000000002" y1="740.5" x2="32.6" y2="740.5" stroke="#333" stroke-width="0.9"/>
<line x1="28.200000000000003" y1="734.1" x2="32.6" y2="734.1" stroke="#333" stroke-width="0.9"/>
<text x="26.0" y="736.4" text-anchor="end" textLength="7.30" lengthAdjust="spacingAndGlyphs" style='font-family:"Liberation Sans",sans-serif;font-size:6.5px' fill="#333">20</text>
<line x1="30.400000000000002" y1="727.8" x2="32.6" y2="727.8" stroke="#333" stroke-width="0.9"/>
<line x1="30.400000000000002" y1="721.4" x2="32.6" y2="721.4" stroke="#333" stroke-width="0.9"/>
<line x1="30.400000000000002" y1="715.1" x2="32.6" y2="715.1" stroke="#333" stroke-width="0.9"/>
<line x1="28.200000000000003" y1="708.7" x2="32.6" y2="708.7" stroke="#333" stroke-width="0.9"/>
<text x="26.0" y="711.0" text-anchor="end" textLength="7.30" lengthAdjust="spacingAndGlyphs" style='font-family:"Liberation Sans",sans-serif;font-size:6.5px' fill="#333">40</text>
<line x1="30.400000000000002" y1="702.4" x2="32.6" y2="702.4" stroke="#333" stroke-width="0.9"/>
<line x1="30.400000000000002" y1="696.0" x2="32.6" y2="696.0" stroke="#333" stroke-width="0.9"/>
<line x1="30.400000000000002" y1="689.7" x2="32.6" y2="689.7" stroke="#333" stroke-width="0.9"/>
<line x1="28.200000000000003" y1="683.4" x2="32.6" y2="683.4" stroke="#333" stroke-width="0.9"/>
<text x="26.0" y="685.7" text-anchor="end" textLength="7.30" lengthAdjust="spacingAndGlyphs" style='font-family:"Liberation Sans",sans-serif;font-size:6.5px' fill="#333">60</text>
<line x1="30.400000000000002" y1="677.0" x2="32.6" y2="677.0" stroke="#333" stroke-width="0.9"/>
<line x1="30.400000000000002" y1="670.7" x2="32.6" y2="670.7" stroke="#333" stroke-width="0.9"/>
<line x1="30.400000000000002" y1="664.3" x2="32.6" y2="664.3" stroke="#333" stroke-width="0.9"/>
<line x1="28.200000000000003" y1="658.0" x2="32.6" y2="658.0" stroke="#333" stroke-width="0.9"/>
<text x="26.0" y="660.3" text-anchor="end" textLength="7.30" lengthAdjust="spacingAndGlyphs" style='font-family:"Liberation Sans",sans-serif;font-size:6.5px' fill="#333">80</text>
<line x1="30.400000000000002" y1="651.6" x2="32.6" y2="651.6" stroke="#333" stroke-width="0.9"/>
<line x1="30.400000000000002" y1="645.3" x2="32.6" y2="645.3" stroke="#333" stroke-width="0.9"/>
<line x1="30.400000000000002" y1="638.9" x2="32.6" y2="638.9" stroke="#333" stroke-width="0.9"/>
<line x1="28.200000000000003" y1="632.6" x2="32.6" y2="632.6" stroke="#333" stroke-width="0.9"/>
<text x="26.0" y="634.9" text-anchor="end" textLength="10.95" lengthAdjust="spacingAndGlyphs" style='font-family:"Liberation Sans",sans-serif;font-size:6.5px' fill="#333">100</text>
<text transform="translate(8.400000000000002,692.5) rotate(-90)" text-anchor="middle" style='font-family:"Liberation Sans",sans-serif;font-size:6.6px' fill="#333">% of Max</text>
<line x1="42.8" y1="759.9" x2="42.8" y2="761.6999999999999" stroke="#333" stroke-width="0.8"/>
<line x1="48.7" y1="759.9" x2="48.7" y2="761.6999999999999" stroke="#333" stroke-width="0.8"/>
<line x1="52.9" y1="759.9" x2="52.9" y2="761.6999999999999" stroke="#333" stroke-width="0.8"/>
<line x1="56.2" y1="759.9" x2="56.2" y2="761.6999999999999" stroke="#333" stroke-width="0.8"/>
<line x1="58.8" y1="759.9" x2="58.8" y2="761.6999999999999" stroke="#333" stroke-width="0.8"/>
<line x1="61.1" y1="759.9" x2="61.1" y2="761.6999999999999" stroke="#333" stroke-width="0.8"/>
<line x1="63.1" y1="759.9" x2="63.1" y2="761.6999999999999" stroke="#333" stroke-width="0.8"/>
<line x1="64.8" y1="759.9" x2="64.8" y2="761.6999999999999" stroke="#333" stroke-width="0.8"/>
<line x1="66.3" y1="759.9" x2="66.3" y2="762.9" stroke="#333" stroke-width="0.8"/>
<line x1="76.5" y1="759.9" x2="76.5" y2="761.6999999999999" stroke="#333" stroke-width="0.8"/>
<line x1="82.4" y1="759.9" x2="82.4" y2="761.6999999999999" stroke="#333" stroke-width="0.8"/>
<line x1="86.6" y1="759.9" x2="86.6" y2="761.6999999999999" stroke="#333" stroke-width="0.8"/>
<line x1="89.9" y1="759.9" x2="89.9" y2="761.6999999999999" stroke="#333" stroke-width="0.8"/>
<line x1="92.6" y1="759.9" x2="92.6" y2="761.6999999999999" stroke="#333" stroke-width="0.8"/>
<line x1="94.8" y1="759.9" x2="94.8" y2="761.6999999999999" stroke="#333" stroke-width="0.8"/>
<line x1="96.8" y1="759.9" x2="96.8" y2="761.6999999999999" stroke="#333" stroke-width="0.8"/>
<line x1="98.5" y1="759.9" x2="98.5" y2="761.6999999999999" stroke="#333" stroke-width="0.8"/>
<line x1="100.1" y1="759.9" x2="100.1" y2="762.9" stroke="#333" stroke-width="0.8"/>
<line x1="110.2" y1="759.9" x2="110.2" y2="761.6999999999999" stroke="#333" stroke-width="0.8"/>
<line x1="116.1" y1="759.9" x2="116.1" y2="761.6999999999999" stroke="#333" stroke-width="0.8"/>
<line x1="120.4" y1="759.9" x2="120.4" y2="761.6999999999999" stroke="#333" stroke-width="0.8"/>
<line x1="123.6" y1="759.9" x2="123.6" y2="761.6999999999999" stroke="#333" stroke-width="0.8"/>
<line x1="126.3" y1="759.9" x2="126.3" y2="761.6999999999999" stroke="#333" stroke-width="0.8"/>
<line x1="128.6" y1="759.9" x2="128.6" y2="761.6999999999999" stroke="#333" stroke-width="0.8"/>
<line x1="130.5" y1="759.9" x2="130.5" y2="761.6999999999999" stroke="#333" stroke-width="0.8"/>
<line x1="132.2" y1="759.9" x2="132.2" y2="761.6999999999999" stroke="#333" stroke-width="0.8"/>
<line x1="133.8" y1="759.9" x2="133.8" y2="762.9" stroke="#333" stroke-width="0.8"/>
<line x1="143.9" y1="759.9" x2="143.9" y2="761.6999999999999" stroke="#333" stroke-width="0.8"/>
<line x1="149.9" y1="759.9" x2="149.9" y2="761.6999999999999" stroke="#333" stroke-width="0.8"/>
<line x1="154.1" y1="759.9" x2="154.1" y2="761.6999999999999" stroke="#333" stroke-width="0.8"/>
<line x1="157.3" y1="759.9" x2="157.3" y2="761.6999999999999" stroke="#333" stroke-width="0.8"/>
<line x1="160.0" y1="759.9" x2="160.0" y2="761.6999999999999" stroke="#333" stroke-width="0.8"/>
<line x1="162.3" y1="759.9" x2="162.3" y2="761.6999999999999" stroke="#333" stroke-width="0.8"/>
<line x1="164.2" y1="759.9" x2="164.2" y2="761.6999999999999" stroke="#333" stroke-width="0.8"/>
<line x1="166.0" y1="759.9" x2="166.0" y2="761.6999999999999" stroke="#333" stroke-width="0.8"/>
<line x1="167.5" y1="759.9" x2="167.5" y2="762.9" stroke="#333" stroke-width="0.8"/>
<text x="66.3" y="772.9" text-anchor="middle" style='font-family:"Liberation Sans",sans-serif;font-size:6.2px' fill="#333">10</text>
<text x="70.7" y="768.2" style='font-family:"Liberation Sans",sans-serif;font-size:6.2px' fill="#333">0</text>
<text x="100.1" y="772.9" text-anchor="middle" style='font-family:"Liberation Sans",sans-serif;font-size:6.2px' fill="#333">10</text>
<text x="104.5" y="768.2" style='font-family:"Liberation Sans",sans-serif;font-size:6.2px' fill="#333">1</text>
<text x="133.8" y="772.9" text-anchor="middle" style='font-family:"Liberation Sans",sans-serif;font-size:6.2px' fill="#333">10</text>
<text x="138.2" y="768.2" style='font-family:"Liberation Sans",sans-serif;font-size:6.2px' fill="#333">2</text>
<text x="167.5" y="772.9" text-anchor="middle" style='font-family:"Liberation Sans",sans-serif;font-size:6.2px' fill="#333">10</text>
<text x="171.9" y="768.2" style='font-family:"Liberation Sans",sans-serif;font-size:6.2px' fill="#333">3</text>
<text x="100.0" y="786.6" text-anchor="middle" style='font-family:"Liberation Sans",sans-serif;font-size:6.4px' fill="#333">FL1 Log:: FL1 Log</text>
<rect x="171.6" y="625.2" width="71.6" height="39.59999999999991" fill="#fff" stroke="#555" stroke-width="1"/>
<rect x="197.0" y="625.7" width="45.69999999999999" height="14.699999999999932" fill="#c4c4c4"/>
<text x="220.1" y="631.4" text-anchor="middle" textLength="40.4" lengthAdjust="spacingAndGlyphs" style='font-family:"Liberation Sans",sans-serif;font-size:6.4px' fill="#444">Sample Name</text>
<line x1="171.6" y1="640.4" x2="243.2" y2="640.4" stroke="#888" stroke-width="1.2"/>
<line x1="172.1" y1="644.5" x2="197.0" y2="644.5" stroke="#3cd8e2" stroke-width="2.6"/>
<text x="198.5" y="646.9" textLength="20.5" lengthAdjust="spacingAndGlyphs" style='font-family:"Liberation Sans",sans-serif;font-size:6.4px' fill="#444">Control</text>
<line x1="171.6" y1="648.5" x2="243.2" y2="648.5" stroke="#888" stroke-width="1.2"/>
<line x1="172.1" y1="652.6" x2="197.0" y2="652.6" stroke="#36d836" stroke-width="2.6"/>
<text x="198.5" y="655.0" textLength="36.5" lengthAdjust="spacingAndGlyphs" style='font-family:"Liberation Sans",sans-serif;font-size:6.4px' fill="#444">Normal-CRT</text>
<line x1="171.6" y1="656.7" x2="243.2" y2="656.7" stroke="#888" stroke-width="1.2"/>
<line x1="172.1" y1="660.7" x2="197.0" y2="660.7" stroke="#e23a3a" stroke-width="2.6"/>
<text x="198.5" y="663.1" textLength="23.4" lengthAdjust="spacingAndGlyphs" style='font-family:"Liberation Sans",sans-serif;font-size:6.4px' fill="#444">RA-CRT</text>
<line x1="197.0" y1="625.2" x2="197.0" y2="664.8" stroke="#333" stroke-width="1"/>
<text x="275.3" y="17.0" style='font-family:"Liberation Sans",sans-serif;font-weight:bold;font-size:22.3px' fill="#000">b</text>
<path d="M294.3,1.1999999999999993 h3.4 v15.6 h-3.4 v-11 q-1.6,0.9 -3.8,1.1 v-2.5 q2.6,-0.9 3.8,-3.2 z" fill="#000"/>
<text x="388.3" y="32.6" text-anchor="middle" style='font-family:"Liberation Serif",serif;font-weight:bold;font-size:10px' fill="#111">4d</text>
<line x1="319.0" y1="155.3" x2="322.0" y2="155.3" stroke="#000" stroke-width="1.1"/>
<text x="318.4" y="158.5" text-anchor="end" style='font-family:"Liberation Serif",serif;font-weight:bold;font-size:8.6px' fill="#111">0.00</text>
<line x1="319.0" y1="127.6" x2="322.0" y2="127.6" stroke="#000" stroke-width="1.1"/>
<text x="318.4" y="130.8" text-anchor="end" style='font-family:"Liberation Serif",serif;font-weight:bold;font-size:8.6px' fill="#111">2.00</text>
<line x1="319.0" y1="100.0" x2="322.0" y2="100.0" stroke="#000" stroke-width="1.1"/>
<text x="318.4" y="103.2" text-anchor="end" style='font-family:"Liberation Serif",serif;font-weight:bold;font-size:8.6px' fill="#111">4.00</text>
<line x1="319.0" y1="72.3" x2="322.0" y2="72.3" stroke="#000" stroke-width="1.1"/>
<text x="318.4" y="75.5" text-anchor="end" style='font-family:"Liberation Serif",serif;font-weight:bold;font-size:8.6px' fill="#111">6.00</text>
<line x1="319.0" y1="44.6" x2="322.0" y2="44.6" stroke="#000" stroke-width="1.1"/>
<text x="318.4" y="47.8" text-anchor="end" style='font-family:"Liberation Serif",serif;font-weight:bold;font-size:8.6px' fill="#111">8.00</text>
<line x1="322.5" y1="44.1" x2="322.5" y2="156.2" stroke="#000" stroke-width="1.4"/>
<line x1="322.5" y1="155.5" x2="459" y2="155.5" stroke="#000" stroke-width="1.4"/>
<text transform="translate(296.5,102.7) rotate(-90)" text-anchor="middle" textLength="114" lengthAdjust="spacingAndGlyphs" style='font-family:"Liberation Serif",serif;font-weight:bold;font-size:8.4px' fill="#111">Mean Fluorescence Intensity(MFI)</text>
<line x1="345.1" y1="118.6" x2="345.1" y2="127.1" stroke="#000" stroke-width="1.6"/>
<line x1="340.4" y1="118.6" x2="349.7" y2="118.6" stroke="#000" stroke-width="1.6"/>
<rect x="329.9" y="127.7" width="30.3" height="27.6" fill="#000" stroke="#000" stroke-width="1.5"/>
<line x1="345.1" y1="155.3" x2="345.1" y2="158.3" stroke="#000" stroke-width="1.1"/>
<text transform="translate(348.5,165.9) rotate(-45)" text-anchor="end" style='font-family:"Liberation Serif",serif;font-weight:bold;font-size:8.8px' fill="#111">Control</text>
<line x1="390.8" y1="82.0" x2="390.8" y2="89.8" stroke="#000" stroke-width="1.6"/>
<line x1="386.2" y1="82.0" x2="395.4" y2="82.0" stroke="#000" stroke-width="1.6"/>
<rect x="375.6" y="90.4" width="30.4" height="64.9" fill="url(#n1)" stroke="#000" stroke-width="1.5"/>
<rect x="376.2" y="91.0" width="29.2" height="63.7" fill="url(#dots)"/>
<line x1="390.8" y1="155.3" x2="390.8" y2="158.3" stroke="#000" stroke-width="1.1"/>
<text transform="translate(394.2,165.9) rotate(-45)" text-anchor="end" style='font-family:"Liberation Serif",serif;font-weight:bold;font-size:8.8px' fill="#111">Normal</text>
<line x1="437.0" y1="71.2" x2="437.0" y2="76.3" stroke="#000" stroke-width="1.6"/>
<line x1="432.4" y1="71.2" x2="441.6" y2="71.2" stroke="#000" stroke-width="1.6"/>
<rect x="422.0" y="76.9" width="30.0" height="78.4" fill="url(#brick)" stroke="#000" stroke-width="1.5"/>
<line x1="437.0" y1="155.3" x2="437.0" y2="158.3" stroke="#000" stroke-width="1.1"/>
<text transform="translate(440.4,165.9) rotate(-45)" text-anchor="end" style='font-family:"Liberation Serif",serif;font-weight:bold;font-size:8.8px' fill="#111">RA</text>
<text x="437.2" y="69.6" text-anchor="middle" style='font-family:"Liberation Serif",serif;font-weight:bold;font-size:7px' fill="#111">*</text>
<text x="275.3" y="217.4" style='font-family:"Liberation Sans",sans-serif;font-weight:bold;font-size:22.3px' fill="#000">b2</text>
<text x="388.8" y="246.2" text-anchor="middle" style='font-family:"Liberation Serif",serif;font-weight:bold;font-size:10px' fill="#111">7d</text>
<line x1="315.0" y1="359.0" x2="318.0" y2="359.0" stroke="#000" stroke-width="1.1"/>
<text x="314.4" y="362.2" text-anchor="end" style='font-family:"Liberation Serif",serif;font-weight:bold;font-size:8.4px' fill="#111">0.00</text>
<line x1="315.0" y1="337.7" x2="318.0" y2="337.7" stroke="#000" stroke-width="1.1"/>
<text x="314.4" y="340.9" text-anchor="end" style='font-family:"Liberation Serif",serif;font-weight:bold;font-size:8.4px' fill="#111">0.30</text>
<line x1="315.0" y1="316.4" x2="318.0" y2="316.4" stroke="#000" stroke-width="1.1"/>
<text x="314.4" y="319.6" text-anchor="end" style='font-family:"Liberation Serif",serif;font-weight:bold;font-size:8.4px' fill="#111">0.60</text>
<line x1="315.0" y1="295.2" x2="318.0" y2="295.2" stroke="#000" stroke-width="1.1"/>
<text x="314.4" y="298.4" text-anchor="end" style='font-family:"Liberation Serif",serif;font-weight:bold;font-size:8.4px' fill="#111">0.90</text>
<line x1="315.0" y1="273.9" x2="318.0" y2="273.9" stroke="#000" stroke-width="1.1"/>
<text x="314.4" y="277.1" text-anchor="end" style='font-family:"Liberation Serif",serif;font-weight:bold;font-size:8.4px' fill="#111">1.20</text>
<line x1="315.0" y1="252.6" x2="318.0" y2="252.6" stroke="#000" stroke-width="1.1"/>
<text x="314.4" y="255.8" text-anchor="end" style='font-family:"Liberation Serif",serif;font-weight:bold;font-size:8.4px' fill="#111">1.50</text>
<line x1="318.5" y1="252.1" x2="318.5" y2="360.2" stroke="#000" stroke-width="1.4"/>
<line x1="318.5" y1="359.5" x2="459" y2="359.5" stroke="#000" stroke-width="1.4"/>
<text transform="translate(295.7,308.5) rotate(-90)" text-anchor="middle" textLength="109" lengthAdjust="spacingAndGlyphs" style='font-family:"Liberation Serif",serif;font-weight:bold;font-size:8.4px' fill="#111">Mean Fluorescence Intensity(MFI)</text>
<line x1="342.2" y1="324.0" x2="342.2" y2="326.4" stroke="#000" stroke-width="1.6"/>
<line x1="337.6" y1="324.0" x2="346.8" y2="324.0" stroke="#000" stroke-width="1.6"/>
<rect x="326.9" y="327.0" width="30.6" height="32.0" fill="#000" stroke="#000" stroke-width="1.5"/>
<line x1="342.2" y1="359.0" x2="342.2" y2="362.0" stroke="#000" stroke-width="1.1"/>
<text transform="translate(344.8,370.8) rotate(-45)" text-anchor="end" style='font-family:"Liberation Serif",serif;font-weight:bold;font-size:8.8px' fill="#111">Control</text>
<line x1="389.9" y1="291.4" x2="389.9" y2="297.4" stroke="#000" stroke-width="1.6"/>
<line x1="385.3" y1="291.4" x2="394.6" y2="291.4" stroke="#000" stroke-width="1.6"/>
<rect x="374.3" y="298.0" width="31.3" height="61.0" fill="url(#n2)" stroke="#000" stroke-width="1.5"/>
<rect x="374.9" y="298.6" width="10.2" height="14.7" fill="#d8d8d8"/>
<rect x="385.1" y="298.6" width="14.2" height="14.7" fill="#e6e6e6"/>
<rect x="399.3" y="298.6" width="5.7" height="14.7" fill="#d8d8d8"/>
<rect x="374.9" y="313.3" width="10.2" height="14.2" fill="#c8c8c8"/>
<rect x="385.1" y="313.3" width="14.2" height="14.2" fill="#d6d6d6"/>
<rect x="399.3" y="313.3" width="5.7" height="14.2" fill="#c8c8c8"/>
<rect x="374.9" y="327.5" width="10.2" height="13.7" fill="#d8d8d8"/>
<rect x="385.1" y="327.5" width="14.2" height="13.7" fill="#e6e6e6"/>
<rect x="399.3" y="327.5" width="5.7" height="13.7" fill="#d8d8d8"/>
<rect x="374.9" y="341.2" width="10.2" height="17.2" fill="#c8c8c8"/>
<rect x="385.1" y="341.2" width="14.2" height="17.2" fill="#d6d6d6"/>
<rect x="399.3" y="341.2" width="5.7" height="17.2" fill="#c8c8c8"/>
<rect x="374.9" y="298.6" width="30.1" height="59.8" fill="url(#dots)"/>
<line x1="389.9" y1="359.0" x2="389.9" y2="362.0" stroke="#000" stroke-width="1.1"/>
<text transform="translate(392.6,370.8) rotate(-45)" text-anchor="end" style='font-family:"Liberation Serif",serif;font-weight:bold;font-size:8.8px' fill="#111">Normal</text>
<line x1="437.1" y1="324.7" x2="437.1" y2="328.1" stroke="#000" stroke-width="1.6"/>
<line x1="432.5" y1="324.7" x2="441.7" y2="324.7" stroke="#000" stroke-width="1.6"/>
<rect x="421.8" y="328.7" width="30.6" height="30.3" fill="url(#brick)" stroke="#000" stroke-width="1.5"/>
<line x1="437.1" y1="359.0" x2="437.1" y2="362.0" stroke="#000" stroke-width="1.1"/>
<text transform="translate(439.7,370.8) rotate(-45)" text-anchor="end" style='font-family:"Liberation Serif",serif;font-weight:bold;font-size:8.8px' fill="#111">RA</text>
<text x="437.1" y="322.6" text-anchor="middle" style='font-family:"Liberation Serif",serif;font-weight:bold;font-size:7px' fill="#111">*</text>
<text x="275.3" y="416.8" style='font-family:"Liberation Sans",sans-serif;font-weight:bold;font-size:22.3px' fill="#000">b3</text>
<text x="382.3" y="436.3" text-anchor="middle" style='font-family:"Liberation Serif",serif;font-weight:bold;font-size:10px' fill="#111">10d</text>
<line x1="319.4" y1="550.8" x2="322.4" y2="550.8" stroke="#000" stroke-width="1.1"/>
<text x="318.79999999999995" y="554.0" text-anchor="end" style='font-family:"Liberation Serif",serif;font-weight:normal;font-size:8.4px' fill="#111">0.00</text>
<line x1="319.4" y1="538.1" x2="322.4" y2="538.1" stroke="#000" stroke-width="1.1"/>
<text x="318.79999999999995" y="541.3" text-anchor="end" style='font-family:"Liberation Serif",serif;font-weight:normal;font-size:8.4px' fill="#111">0.20</text>
<line x1="319.4" y1="525.4" x2="322.4" y2="525.4" stroke="#000" stroke-width="1.1"/>
<text x="318.79999999999995" y="528.6" text-anchor="end" style='font-family:"Liberation Serif",serif;font-weight:normal;font-size:8.4px' fill="#111">0.40</text>
<line x1="319.4" y1="512.7" x2="322.4" y2="512.7" stroke="#000" stroke-width="1.1"/>
<text x="318.79999999999995" y="515.9" text-anchor="end" style='font-family:"Liberation Serif",serif;font-weight:normal;font-size:8.4px' fill="#111">0.60</text>
<line x1="319.4" y1="500.0" x2="322.4" y2="500.0" stroke="#000" stroke-width="1.1"/>
<text x="318.79999999999995" y="503.2" text-anchor="end" style='font-family:"Liberation Serif",serif;font-weight:normal;font-size:8.4px' fill="#111">0.80</text>
<line x1="319.4" y1="487.3" x2="322.4" y2="487.3" stroke="#000" stroke-width="1.1"/>
<text x="318.79999999999995" y="490.5" text-anchor="end" style='font-family:"Liberation Serif",serif;font-weight:normal;font-size:8.4px' fill="#111">1.00</text>
<line x1="319.4" y1="474.6" x2="322.4" y2="474.6" stroke="#000" stroke-width="1.1"/>
<text x="318.79999999999995" y="477.8" text-anchor="end" style='font-family:"Liberation Serif",serif;font-weight:normal;font-size:8.4px' fill="#111">1.20</text>
<line x1="319.4" y1="461.9" x2="322.4" y2="461.9" stroke="#000" stroke-width="1.1"/>
<text x="318.79999999999995" y="465.1" text-anchor="end" style='font-family:"Liberation Serif",serif;font-weight:normal;font-size:8.4px' fill="#111">1.40</text>
<line x1="319.4" y1="449.2" x2="322.4" y2="449.2" stroke="#000" stroke-width="1.1"/>
<text x="318.79999999999995" y="452.4" text-anchor="end" style='font-family:"Liberation Serif",serif;font-weight:normal;font-size:8.4px' fill="#111">1.60</text>
<line x1="322.5" y1="448.7" x2="322.5" y2="551.2" stroke="#000" stroke-width="1.4"/>
<line x1="322.5" y1="550.5" x2="462" y2="550.5" stroke="#000" stroke-width="1.4"/>
<text transform="translate(299.2,502.7) rotate(-90)" text-anchor="middle" textLength="104" lengthAdjust="spacingAndGlyphs" style='font-family:"Liberation Serif",serif;font-weight:normal;font-size:8.4px' fill="#111">Mean Fluorescence Intensity(MFI)</text>
<line x1="345.6" y1="521.6" x2="345.6" y2="527.0" stroke="#000" stroke-width="1.6"/>
<line x1="341.0" y1="521.6" x2="350.2" y2="521.6" stroke="#000" stroke-width="1.6"/>
<rect x="330.3" y="527.6" width="30.6" height="23.2" fill="#000" stroke="#000" stroke-width="1.5"/>
<line x1="345.6" y1="550.8" x2="345.6" y2="553.8" stroke="#000" stroke-width="1.1"/>
<text transform="translate(348.7,563.2) rotate(-45)" text-anchor="end" style='font-family:"Liberation Serif",serif;font-weight:bold;font-size:8.8px' fill="#111">Control</text>
<line x1="393.4" y1="473.5" x2="393.4" y2="478.6" stroke="#000" stroke-width="1.6"/>
<line x1="388.8" y1="473.5" x2="398.0" y2="473.5" stroke="#000" stroke-width="1.6"/>
<rect x="378.4" y="479.2" width="30.0" height="71.6" fill="url(#n1)" stroke="#000" stroke-width="1.5"/>
<rect x="379.0" y="479.8" width="28.8" height="70.4" fill="url(#dots)"/>
<line x1="393.4" y1="550.8" x2="393.4" y2="553.8" stroke="#000" stroke-width="1.1"/>
<text transform="translate(396.5,563.2) rotate(-45)" text-anchor="end" style='font-family:"Liberation Serif",serif;font-weight:bold;font-size:8.8px' fill="#111">Normal</text>
<line x1="439.6" y1="513.5" x2="439.6" y2="517.9" stroke="#000" stroke-width="1.6"/>
<line x1="435.0" y1="513.5" x2="444.2" y2="513.5" stroke="#000" stroke-width="1.6"/>
<rect x="424.8" y="518.5" width="29.7" height="32.3" fill="url(#brick)" stroke="#000" stroke-width="1.5"/>
<line x1="439.6" y1="550.8" x2="439.6" y2="553.8" stroke="#000" stroke-width="1.1"/>
<text transform="translate(442.8,563.2) rotate(-45)" text-anchor="end" style='font-family:"Liberation Serif",serif;font-weight:bold;font-size:8.8px' fill="#111">RA</text>
<text x="439.6" y="511.8" text-anchor="middle" style='font-family:"Liberation Serif",serif;font-weight:bold;font-size:7px' fill="#111">**</text>
<text x="275.3" y="617.2" style='font-family:"Liberation Sans",sans-serif;font-weight:bold;font-size:22.3px' fill="#000">b4</text>
<text x="378.4" y="633.0" text-anchor="middle" style='font-family:"Liberation Serif",serif;font-weight:bold;font-size:10px' fill="#111">14d</text>
<line x1="323.0" y1="754.0" x2="326.0" y2="754.0" stroke="#000" stroke-width="1.1"/>
<text x="322.4" y="757.2" text-anchor="end" style='font-family:"Liberation Serif",serif;font-weight:bold;font-size:8.6px' fill="#111">0.00</text>
<line x1="323.0" y1="740.3" x2="326.0" y2="740.3" stroke="#000" stroke-width="1.1"/>
<text x="322.4" y="743.5" text-anchor="end" style='font-family:"Liberation Serif",serif;font-weight:bold;font-size:8.6px' fill="#111">0.10</text>
<line x1="323.0" y1="726.5" x2="326.0" y2="726.5" stroke="#000" stroke-width="1.1"/>
<text x="322.4" y="729.8" text-anchor="end" style='font-family:"Liberation Serif",serif;font-weight:bold;font-size:8.6px' fill="#111">0.20</text>
<line x1="323.0" y1="712.8" x2="326.0" y2="712.8" stroke="#000" stroke-width="1.1"/>
<text x="322.4" y="716.0" text-anchor="end" style='font-family:"Liberation Serif",serif;font-weight:bold;font-size:8.6px' fill="#111">0.30</text>
<line x1="323.0" y1="699.1" x2="326.0" y2="699.1" stroke="#000" stroke-width="1.1"/>
<text x="322.4" y="702.3" text-anchor="end" style='font-family:"Liberation Serif",serif;font-weight:bold;font-size:8.6px' fill="#111">0.40</text>
<line x1="323.0" y1="685.4" x2="326.0" y2="685.4" stroke="#000" stroke-width="1.1"/>
<text x="322.4" y="688.6" text-anchor="end" style='font-family:"Liberation Serif",serif;font-weight:bold;font-size:8.6px' fill="#111">0.50</text>
<line x1="323.0" y1="671.7" x2="326.0" y2="671.7" stroke="#000" stroke-width="1.1"/>
<text x="322.4" y="674.9" text-anchor="end" style='font-family:"Liberation Serif",serif;font-weight:bold;font-size:8.6px' fill="#111">0.60</text>
<line x1="323.0" y1="657.9" x2="326.0" y2="657.9" stroke="#000" stroke-width="1.1"/>
<text x="322.4" y="661.1" text-anchor="end" style='font-family:"Liberation Serif",serif;font-weight:bold;font-size:8.6px' fill="#111">0.70</text>
<line x1="323.0" y1="644.2" x2="326.0" y2="644.2" stroke="#000" stroke-width="1.1"/>
<text x="322.4" y="647.4" text-anchor="end" style='font-family:"Liberation Serif",serif;font-weight:bold;font-size:8.6px' fill="#111">0.80</text>
<line x1="326.5" y1="643.7" x2="326.5" y2="755.2" stroke="#000" stroke-width="1.4"/>
<line x1="326.5" y1="754.5" x2="468" y2="754.5" stroke="#000" stroke-width="1.4"/>
<text transform="translate(299.8,701.8) rotate(-90)" text-anchor="middle" textLength="112.6" lengthAdjust="spacingAndGlyphs" style='font-family:"Liberation Serif",serif;font-weight:bold;font-size:8.4px' fill="#111">Mean Fluorescence Intensity(MFI)</text>
<line x1="349.5" y1="721.7" x2="349.5" y2="729.5" stroke="#000" stroke-width="1.6"/>
<line x1="344.9" y1="721.7" x2="354.1" y2="721.7" stroke="#000" stroke-width="1.6"/>
<rect x="333.6" y="730.1" width="31.8" height="23.9" fill="#000" stroke="#000" stroke-width="1.5"/>
<line x1="349.5" y1="754.0" x2="349.5" y2="757.0" stroke="#000" stroke-width="1.1"/>
<text transform="translate(352.1,765.0) rotate(-45)" text-anchor="end" style='font-family:"Liberation Serif",serif;font-weight:bold;font-size:8.8px' fill="#111">Control</text>
<line x1="398.0" y1="661.7" x2="398.0" y2="669.5" stroke="#000" stroke-width="1.6"/>
<line x1="393.4" y1="661.7" x2="402.6" y2="661.7" stroke="#000" stroke-width="1.6"/>
<rect x="382.5" y="670.1" width="31.0" height="83.9" fill="url(#n1)" stroke="#000" stroke-width="1.5"/>
<rect x="383.1" y="670.7" width="29.8" height="82.7" fill="url(#dots)"/>
<line x1="398.0" y1="754.0" x2="398.0" y2="757.0" stroke="#000" stroke-width="1.1"/>
<text transform="translate(400.6,765.0) rotate(-45)" text-anchor="end" style='font-family:"Liberation Serif",serif;font-weight:bold;font-size:8.8px' fill="#111">Normal</text>
<line x1="445.6" y1="701.4" x2="445.6" y2="708.1" stroke="#000" stroke-width="1.6"/>
<line x1="441.0" y1="701.4" x2="450.2" y2="701.4" stroke="#000" stroke-width="1.6"/>
<rect x="429.9" y="708.7" width="31.4" height="45.3" fill="url(#brick)" stroke="#000" stroke-width="1.5"/>
<line x1="445.6" y1="754.0" x2="445.6" y2="757.0" stroke="#000" stroke-width="1.1"/>
<text transform="translate(448.2,765.0) rotate(-45)" text-anchor="end" style='font-family:"Liberation Serif",serif;font-weight:bold;font-size:8.8px' fill="#111">RA</text>
<text x="445.6" y="699.2" text-anchor="middle" style='font-family:"Liberation Serif",serif;font-weight:bold;font-size:7px' fill="#111">**</text>
</svg>
</body></html>
